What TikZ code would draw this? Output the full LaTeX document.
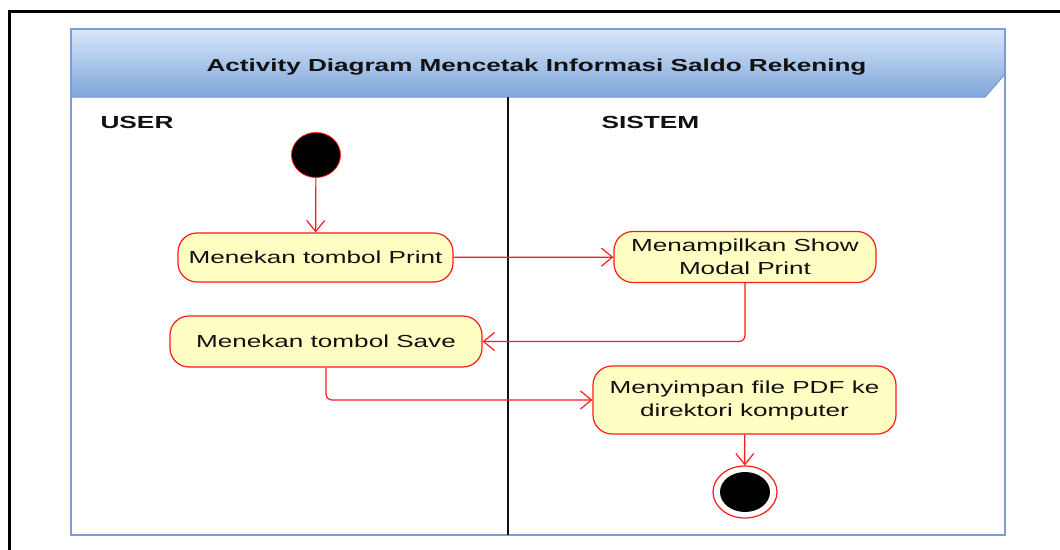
\documentclass[tikz,border=0pt]{standalone}
\usepackage{fontspec}
\setmainfont[FakeStretch=1.5]{Liberation Sans}
\usetikzlibrary{arrows.meta,shapes.geometric}
\definecolor{lanerim}{HTML}{7C9ED2}
\definecolor{headtop}{HTML}{D8E6F8}
\definecolor{headbot}{HTML}{7FA6DC}
\definecolor{actfill}{HTML}{FFFFC4}
\definecolor{flowred}{HTML}{FF1A1A}
\definecolor{ink}{HTML}{111111}
\tikzset{
  action/.style={draw=flowred, line width=1.2pt, fill=actfill, rounded corners=19pt,
    align=center, font=\fontsize{17.4}{23}\selectfont, text=ink, inner sep=0pt},
  flow/.style={draw=flowred, line width=1.2pt, rounded corners=6pt,
    -{Straight Barb[length=11pt,width=18pt,line width=1.2pt]}},
  lanetitle/.style={font=\bfseries\fontsize{17.5}{20}\selectfont, text=ink, anchor=base west},
}
\begin{document}
\begin{tikzpicture}[x=1pt,y=-1pt]
\useasboundingbox (0,0) rectangle (1060,549);
% outer page frame
\begin{scope}
\clip (0,0) rectangle (1060,549);
\draw[line width=3pt, black] (9.5,11.5) rectangle (1080,570);
\end{scope}
% swimlane container
\fill[white] (71,29) rectangle (1005,535);
\shade[top color=headtop, bottom color=headbot]
  (71,29) -- (1005,29) -- (1005,74) -- (985,97) -- (71,97) -- cycle;
\draw[lanerim, line width=1.3pt] (71,97) -- (985,97) -- (1005,74);
\draw[lanerim, line width=1.6pt] (71,29) rectangle (1005,535);
\node[font=\bfseries\fontsize{17.4}{20}\selectfont, text=ink] (title) at (536.5,67)
  {Activity Diagram Mencetak Informasi Saldo Rekening};
% lane divider
\draw[ink, line width=1.6pt] (508,97) -- (508,535);
\node[lanetitle] (user) at (97,128) {USER};
\node[lanetitle] (sistem) at (598,128) {SISTEM};
% start and final nodes
\node[ellipse, fill=black, draw=flowred, line width=0.8pt, minimum width=49pt, minimum height=45pt, inner sep=0pt] (start) at (316,155) {};
\node[ellipse, draw=flowred, fill=white, line width=1.2pt, minimum width=64pt, minimum height=52pt, inner sep=0pt] (final) at (745,492) {};
\node[ellipse, fill=black, minimum width=50pt, minimum height=40pt, inner sep=0pt] (finaldot) at (745,492) {};
% actions
\node[action, minimum width=275pt, minimum height=49pt] (print) at (315.5,257.5) {Menekan tombol Print};
\node[action, minimum width=262pt, minimum height=51pt] (modal) at (745,257) {Menampilkan Show\\Modal Print};
\node[action, minimum width=312pt, minimum height=51pt] (save) at (326,341.5) {Menekan tombol Save};
\node[action, minimum width=303pt, minimum height=68pt] (store) at (744.5,400) {Menyimpan file PDF ke\\direktori komputer};
% control flows
\draw[flow] (start) -- (print);
\draw[flow] (print) -- (modal);
\draw[flow] (modal.south) |- (save.east);
\draw[flow] (save.south) |- (store.west);
\draw[flow] (store) -- (final);
\end{tikzpicture}
\end{document}
